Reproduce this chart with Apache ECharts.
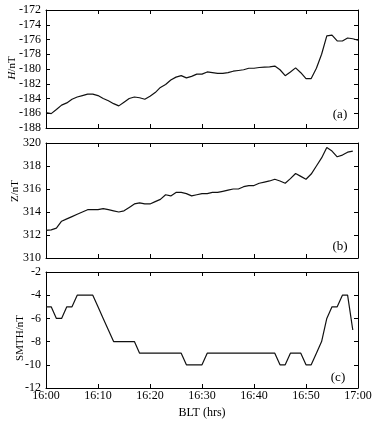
<!DOCTYPE html>
<html><head><meta charset="utf-8">
<script src="https://cdn.jsdelivr.net/npm/echarts@6/dist/echarts.min.js"></script>
<style>html,body{margin:0;padding:0;background:#fff}#c{width:377px;height:423px}</style>
</head><body><div id="c"></div>
<script>
// ---- data ----
const minutes = [0,1,2,3,4,5,6,7,8,9,10,11,12,13,14,15,16,17,18,19,20,21,22,23,24,25,26,27,28,29,30,
  31,32,33,34,35,36,37,38,39,40,41,42,43,44,45,46,47,48,49,50,51,52,53,54,55,56,57,58,59,60];
const xTickLabels = ['16:00','16:10','16:20','16:30','16:40','16:50','17:00'];
const hValues = [-185.9,-186.05,-185.5,-184.9,-184.6,-184.1,-183.8,-183.6,-183.4,-183.4,
  -183.6,-184.0,-184.3,-184.7,-185.0,-184.5,-184.0,-183.8,-183.9,-184.1,
  -183.7,-183.2,-182.5,-182.1,-181.5,-181.1,-180.9,-181.2,-181.0,-180.7,
  -180.7,-180.4,-180.5,-180.6,-180.6,-180.5,-180.3,-180.2,-180.1,-179.9,
  -179.9,-179.8,-179.75,-179.7,-179.6,-180.1,-180.9,-180.4,-179.85,-180.5,
  -181.3,-181.3,-179.9,-178.0,-175.5,-175.4,-176.2,-176.2,-175.8,-175.9,-176.1];
const zValues = [312.4,312.45,312.6,313.2,313.4,313.6,313.8,314.0,314.2,314.2,
  314.2,314.3,314.2,314.1,314.0,314.1,314.4,314.7,314.8,314.7,
  314.7,314.9,315.1,315.5,315.4,315.7,315.7,315.6,315.4,315.5,
  315.6,315.6,315.7,315.7,315.8,315.9,316.0,316.0,316.2,316.3,
  316.3,316.5,316.6,316.7,316.85,316.7,316.5,316.9,317.35,317.1,
  316.85,317.3,318.0,318.7,319.6,319.3,318.8,318.95,319.2,319.3];
const smthValues = [-5,-5,-6,-6,-5,-5,-4,-4,-4,-4,
  -5,-6,-7,-8,-8,-8,-8,-8,-9,-9,
  -9,-9,-9,-9,-9,-9,-9,-10,-10,-10,
  -10,-9,-9,-9,-9,-9,-9,-9,-9,-9,
  -9,-9,-9,-9,-9,-10,-10,-9,-9,-9,
  -10,-10,-9,-8,-6,-5,-5,-4,-4,-7];
const hTicks = {min:-188, max:-172, interval:2};
const zTicks = {min:310, max:320, interval:2};
const sTicks = {min:-12, max:-2, interval:2};
const panelLabels = ['(a)','(b)','(c)'];
const xName = 'BLT (hrs)';

// ---- layout ----
const FONT = '"Liberation Serif","Times New Roman",serif';
const grids = [
  {left:46, width:312, top:10, height:118},
  {left:46, width:312, top:143, height:115},
  {left:46, width:312, top:272, height:116}
];
const seriesVals = [hValues, zValues, smthValues];
const ticks = [hTicks, zTicks, sTicks];

const xAxes = [], yAxes = [], series = [];
grids.forEach((g, i) => {
  const last = i === grids.length - 1;
  const base = {
    type:'value', gridIndex:i, min:0, max:60, interval:10,
    splitLine:{show:false},
    axisLine:{show:true, onZero:false, lineStyle:{color:'#000', width:1}},
    axisTick:{show:true, inside:true, length:4, lineStyle:{color:'#000'}}
  };
  xAxes.push(Object.assign({}, base, {
    position:'bottom',
    axisLabel:{show:last, margin:2, color:'#000', fontFamily:FONT, fontSize:12,
      formatter: v => xTickLabels[Math.round(v/10)]},
    name: last ? xName : '', nameLocation:'middle', nameGap:19,
    nameTextStyle:{color:'#000', fontFamily:FONT, fontSize:12}
  }));
  xAxes.push(Object.assign({}, base, {position:'top', axisLabel:{show:false}}));
  const t = ticks[i];
  const ybase = {
    type:'value', gridIndex:i, min:t.min, max:t.max, interval:t.interval,
    splitLine:{show:false},
    axisLine:{show:true, onZero:false, lineStyle:{color:'#000', width:1}},
    axisTick:{show:true, inside:true, length:4, lineStyle:{color:'#000'}}
  };
  yAxes.push(Object.assign({}, ybase, {
    position:'left',
    axisLabel:{show:true, margin:5, color:'#000', fontFamily:FONT, fontSize:12,
      showMinLabel:true, showMaxLabel:true}
  }));
  yAxes.push(Object.assign({}, ybase, {position:'right', axisLabel:{show:false}}));
  const vals = seriesVals[i];
  series.push({
    type:'line', xAxisIndex:i*2, yAxisIndex:i*2,
    data: vals.map((v, k) => [minutes[k], v]),
    showSymbol:false, symbol:'none', smooth:false,
    lineStyle:{color:'#111', width:1.2}, animation:false
  });
});

const graphic = [
  {type:'text', left:'auto', x:12, y:68, rotation:Math.PI/2,
    style:{text:'{i|H}/nT', rich:{i:{fontStyle:'italic', fontFamily:FONT, fontSize:11, fill:'#000'}},
      font:'11px ' + FONT, fill:'#000', align:'center', verticalAlign:'middle'}},
  {type:'text', x:15, y:191, rotation:Math.PI/2,
    style:{text:'Z/nT', font:'11px ' + FONT, fill:'#000', align:'center', verticalAlign:'middle'}},
  {type:'text', x:20, y:338, rotation:Math.PI/2,
    style:{text:'SMTH/nT', font:'11px ' + FONT, fill:'#000', align:'center', verticalAlign:'middle'}},
  {type:'text', x:340, y:115, style:{text:panelLabels[0], font:'13px ' + FONT, fill:'#000', align:'center', verticalAlign:'middle'}},
  {type:'text', x:340, y:247, style:{text:panelLabels[1], font:'13px ' + FONT, fill:'#000', align:'center', verticalAlign:'middle'}},
  {type:'text', x:338, y:378, style:{text:panelLabels[2], font:'13px ' + FONT, fill:'#000', align:'center', verticalAlign:'middle'}}
];

const chart = echarts.init(document.getElementById('c'), null, {renderer:'canvas'});
chart.setOption({
  backgroundColor:'#fff',
  animation:false,
  grid: grids,
  xAxis: xAxes,
  yAxis: yAxes,
  series: series,
  graphic: graphic
});
</script></body></html>
